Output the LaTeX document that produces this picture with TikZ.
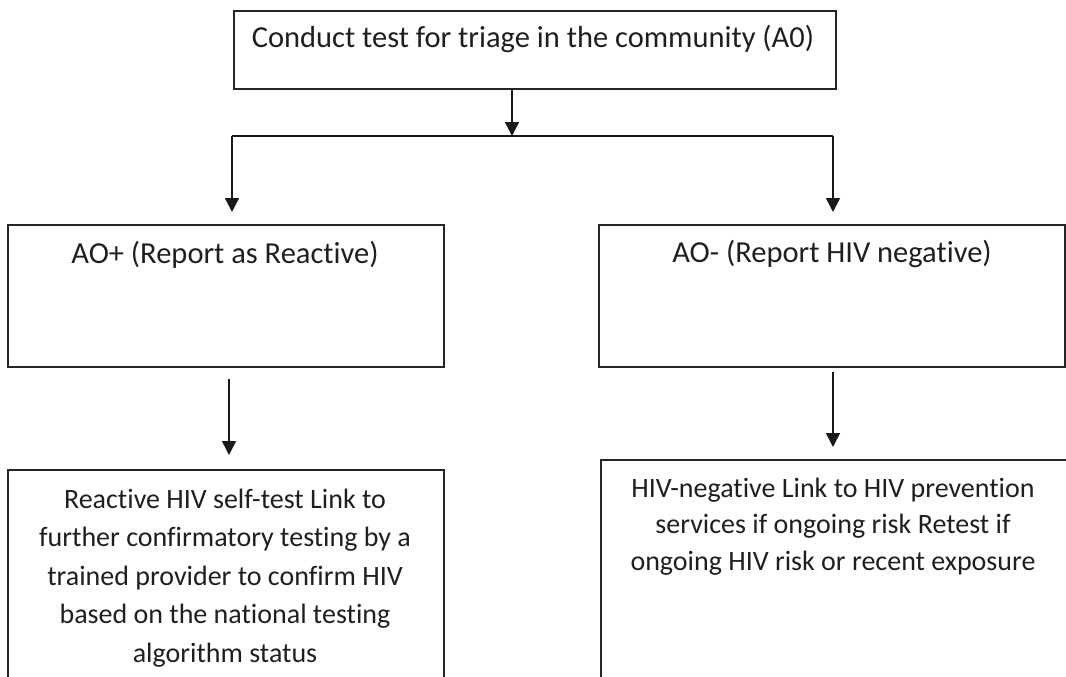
\documentclass[tikz,border=0pt]{standalone}
\usepackage{fontspec}
\setmainfont{Carlito}[Ligatures={NoCommon}]
\usetikzlibrary{arrows.meta}
\begin{document}
\begin{tikzpicture}[x=1pt,y=-1pt,
  box/.style={draw=black!85,line width=1.8pt,rectangle,anchor=north west,inner sep=0pt},
  lbl/.style={anchor=base,align=center,inner sep=0pt,text=black!88,font=\fontsize{30.5}{36}\selectfont},
  para/.style={lbl,font=\fontsize{28}{38.5}\selectfont},
  wire/.style={draw=black!90,line width=1.5pt},
  link/.style={wire,-{Triangle[length=14pt,width=14pt]}}]
\useasboundingbox (0,0) rectangle (1066,677);
\clip (0,0) rectangle (1066,677);

% boxes
\node[box,minimum width=602pt,minimum height=78pt] (a0) at (233,10) {};
\node[box,minimum width=436pt,minimum height=142pt] (pos) at (7,224) {};
\node[box,minimum width=466pt,minimum height=142pt] (neg) at (598,224) {};
\node[box,minimum width=436pt,minimum height=260pt] (posact) at (7,469) {};
\node[box,minimum width=470pt,minimum height=260pt] (negact) at (600,459) {};

% texts (base anchor of a multi-line node sits on its last line)
\node[lbl] (a0t) at (533,48) {Conduct test for triage in the community (A0)};
\node[lbl] (post) at (225,263) {AO+ (Report as Reactive)};
\node[lbl] (negt) at (832,262) {AO- (Report HIV negative)};
\node[para] (posactt) at (225,662) {Reactive HIV self-test Link to\\further confirmatory testing by a\\trained provider to confirm HIV\\based on the national testing\\algorithm status};
\node[para,font=\fontsize{28}{36.5}\selectfont] (negactt) at (833,570) {HIV-negative Link to HIV prevention\\services if ongoing risk Retest if\\ongoing HIV risk or recent exposure};

% branching connectors
\coordinate (fork) at (512,136);
\coordinate (forkL) at (232,136);
\coordinate (forkR) at (833,136);
\coordinate (tipL) at (232,212);
\coordinate (tipR) at (833,212);
\draw[link] (a0.south -| fork) -- (fork);
\draw[wire] (forkL) -- (forkR);
\draw[link] (forkL) -- (tipL);
\draw[link] (forkR) -- (tipR);

% follow-up arrows
\coordinate (posA) at (229,379);
\coordinate (posB) at (229,455);
\coordinate (negA) at (833,372);
\coordinate (negB) at (833,447);
\draw[link] (posA) -- (posB);
\draw[link] (negA) -- (negB);
\end{tikzpicture}
\end{document}
